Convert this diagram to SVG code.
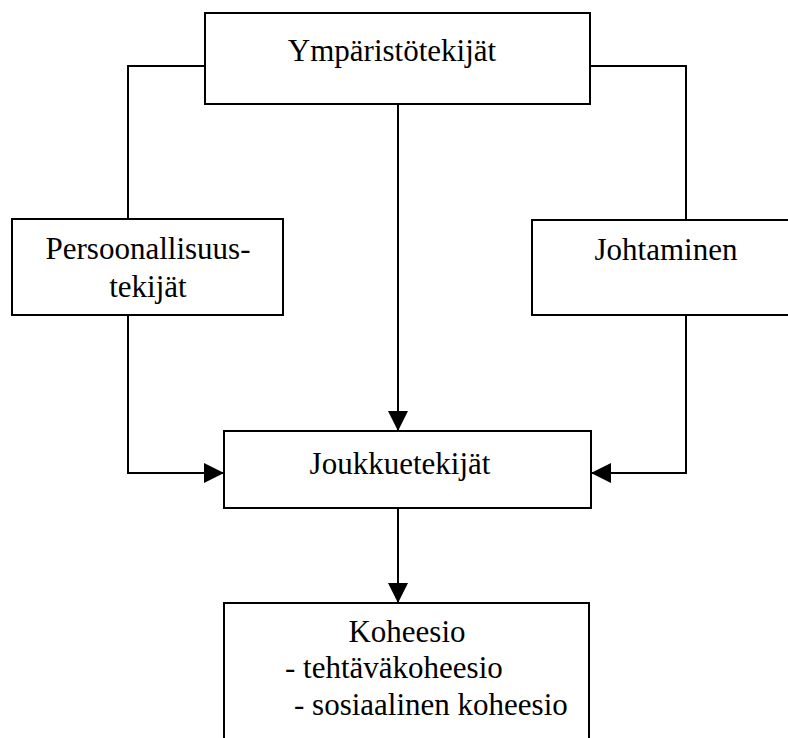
<svg xmlns="http://www.w3.org/2000/svg" width="788" height="738" viewBox="0 0 788 738">
<defs>
<style>
.box{fill:#fff;stroke:#000;stroke-width:2}
.ln{fill:none;stroke:#000;stroke-width:2}
.t{font-family:"Liberation Serif","Times New Roman",serif;font-size:31px;fill:#000}
.m{text-anchor:middle}
</style>
<marker id="ah" viewBox="0 0 20 20" refX="20" refY="10" markerWidth="20" markerHeight="20" markerUnits="userSpaceOnUse" orient="auto">
<path d="M0,0 L20,10 L0,20 Z" fill="#000"/>
</marker>
</defs>
<rect width="788" height="738" fill="#fff"/>
<g id="connectors">
<path class="ln" d="M205,66 H128 V219"/>
<path class="ln" d="M590,66 H686 V220"/>
<path class="ln" d="M128,315 V473 H224" marker-end="url(#ah)"/>
<path class="ln" d="M686,315 V473 H591" marker-end="url(#ah)"/>
<path class="ln" d="M398,104 V431" marker-end="url(#ah)"/>
<path class="ln" d="M398,508 V603" marker-end="url(#ah)"/>
</g>
<g id="ymparisto">
<rect class="box" x="205" y="13" width="385" height="91"/>
<text class="t m" x="392" y="61">Ympäristötekijät</text>
</g>
<g id="persoonallisuus">
<rect class="box" x="12" y="219" width="271" height="96"/>
<text class="t m" x="148" y="259">Persoonallisuus-</text>
<text class="t m" x="148" y="297">tekijät</text>
</g>
<g id="johtaminen">
<rect class="box" x="532" y="220" width="270" height="95"/>
<text class="t m" x="666" y="260">Johtaminen</text>
</g>
<g id="joukkue">
<rect class="box" x="224" y="431" width="367" height="77"/>
<text class="t m" x="400" y="474">Joukkuetekijät</text>
</g>
<g id="koheesio">
<rect class="box" x="224" y="603" width="365" height="145"/>
<text class="t m" x="407" y="642">Koheesio</text>
<text class="t" x="285" y="678">- tehtäväkoheesio</text>
<text class="t" x="294" y="715">- sosiaalinen koheesio</text>
</g>
</svg>
